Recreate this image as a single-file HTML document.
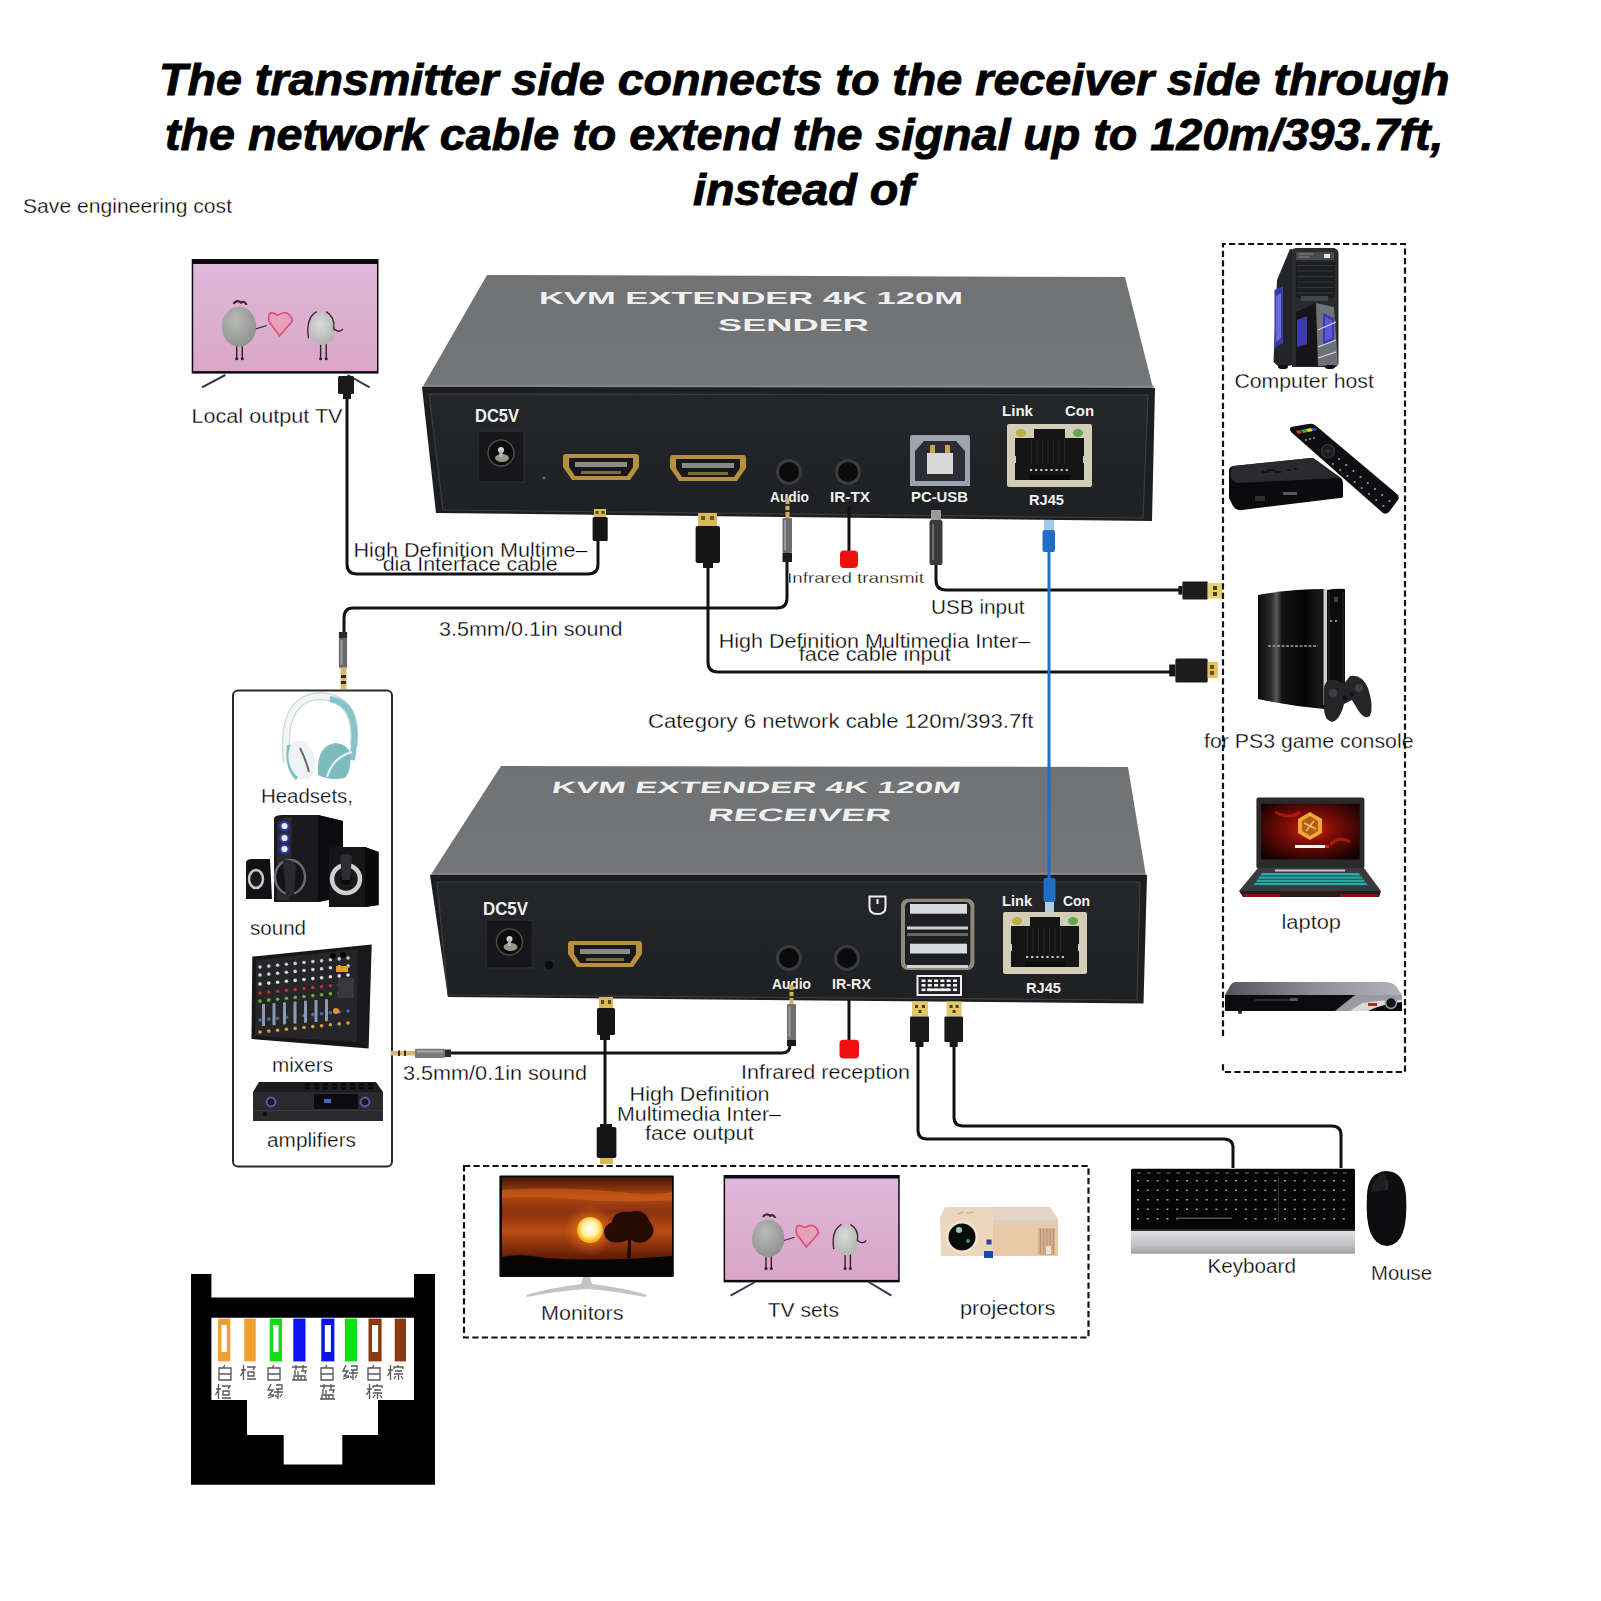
<!DOCTYPE html>
<html><head><meta charset="utf-8">
<style>
html,body{margin:0;padding:0;background:#fff;}
body{width:1601px;height:1601px;overflow:hidden;position:relative;}
svg{position:absolute;left:0;top:0;}
text{font-family:"Liberation Sans",sans-serif;}
.t{font-size:45px;font-weight:bold;font-style:italic;fill:#000;stroke:#000;stroke-width:0.9px;}
.l{font-size:19.5px;fill:#111;}
</style></head><body>
<svg width="1601" height="1601" viewBox="0 0 1601 1601">
<defs>
 <linearGradient id="topS" x1="0" y1="0" x2="0" y2="1">
  <stop offset="0" stop-color="#717274"/><stop offset="1" stop-color="#747577"/>
 </linearGradient>
 <linearGradient id="frontS" x1="0" y1="0" x2="0" y2="1">
  <stop offset="0" stop-color="#25262a"/><stop offset="1" stop-color="#1f2023"/>
 </linearGradient>
</defs>

<text class="t" x="159" y="94.5" textLength="1290.5" lengthAdjust="spacingAndGlyphs">The transmitter side connects to the receiver side through</text>
<text class="t" x="165" y="149.5" textLength="1278.5" lengthAdjust="spacingAndGlyphs">the network cable to extend the signal up to 120m/393.7ft,</text>
<text class="t" x="693" y="204.5" textLength="221" lengthAdjust="spacingAndGlyphs">instead of</text>
<text x="23" y="212.7" font-size="19.5" fill="#000" stroke="#fff" stroke-width="0.3" textLength="209" lengthAdjust="spacingAndGlyphs">Save engineering cost</text>
<g id="sender"><polygon points="487,275 1125,277 1153,388 422,388" fill="url(#topS)"/><line x1="424" y1="385.5" x2="1154" y2="386.5" stroke="#8a8b8d" stroke-width="1.5"/><polygon points="422,387 1155,388 1152,521 436,513" fill="#1d1e21"/><polygon points="429,394 1148,395 1143,518 443,510" fill="url(#frontS)" stroke="#3b3c40" stroke-width="1.2"/><text x="539" y="304" font-size="17" font-weight="bold" fill="#f0f0f0" textLength="424" lengthAdjust="spacingAndGlyphs" >KVM EXTENDER 4K 120M</text><text x="718" y="331" font-size="17" font-weight="bold" fill="#f0f0f0" textLength="151" lengthAdjust="spacingAndGlyphs" >SENDER</text><text x="475" y="422" font-size="18.5" font-weight="bold" fill="#f0f0f0" textLength="44" lengthAdjust="spacingAndGlyphs" >DC5V</text><rect x="478" y="431" width="46" height="51" fill="#17171a" stroke="#2a2b2f" stroke-width="1.5"/><circle cx="501.0" cy="453" r="13" fill="#0c0c0d" stroke="#4a4a4e" stroke-width="1.5"/><ellipse cx="502.0" cy="458" rx="7" ry="4" fill="#9a968a"/><circle cx="501.0" cy="450" r="3" fill="#d8d8d8"/><rect x="499.5" y="450" width="3" height="7" fill="#b8b8b8"/><circle cx="544" cy="478" r="1.5" fill="#666"/><path d="M566,454 H636 Q639,454 639,457 V467.0 L630,480 H572 L563,467.0 V457 Q563,454 566,454 Z" fill="#b88f3c"/><path d="M569,458 H633 V467.0 L627,476 H575 L569,467.0 Z" fill="#16181b"/><rect x="575" y="462" width="52" height="5" fill="#8a8a86"/><rect x="581" y="471" width="40" height="3" fill="#7a6a3a"/><path d="M673,455 H743 Q746,455 746,458 V468.0 L737,481 H679 L670,468.0 V458 Q670,455 673,455 Z" fill="#b88f3c"/><path d="M676,459 H740 V468.0 L734,477 H682 L676,468.0 Z" fill="#16181b"/><rect x="682" y="463" width="52" height="5" fill="#8a8a86"/><rect x="688" y="472" width="40" height="3" fill="#7a6a3a"/><circle cx="789" cy="472" r="13" fill="#3a3b3e"/><circle cx="789" cy="472" r="10" fill="#0b0b0c"/><circle cx="848" cy="472" r="13" fill="#3a3b3e"/><circle cx="848" cy="472" r="10" fill="#0b0b0c"/><text x="770" y="502" font-size="14" font-weight="bold" fill="#f0f0f0" textLength="39" lengthAdjust="spacingAndGlyphs" >Audio</text><text x="830" y="502" font-size="14" font-weight="bold" fill="#f0f0f0" textLength="40" lengthAdjust="spacingAndGlyphs" >IR-TX</text><path d="M910,438 Q910,435 913,435 H967 Q970,435 970,438 V486 H910 Z" fill="#9ea3b0"/><path d="M915,451 L924,441 H956 L965,451 V481 H915 Z" fill="#2d2e33"/><rect x="927" y="453" width="26" height="21" fill="#d8d8d8"/><rect x="930" y="445" width="5" height="8" fill="#c9a050"/><rect x="945" y="445" width="5" height="8" fill="#c9a050"/><text x="911" y="502" font-size="14" font-weight="bold" fill="#f0f0f0" textLength="57" lengthAdjust="spacingAndGlyphs" >PC-USB</text><text x="1002" y="416" font-size="15" font-weight="bold" fill="#f0f0f0" textLength="31" lengthAdjust="spacingAndGlyphs" >Link</text><text x="1065" y="416" font-size="15" font-weight="bold" fill="#f0f0f0" textLength="29" lengthAdjust="spacingAndGlyphs" >Con</text><rect x="1007" y="424" width="85" height="63" rx="2" fill="#d3ccb6"/><rect x="1015" y="438" width="69" height="42" fill="#151516"/><rect x="1034" y="429" width="31" height="10" fill="#151516"/><ellipse cx="1021" cy="433" rx="5" ry="4" fill="#b8b040"/><ellipse cx="1078" cy="433" rx="5" ry="4" fill="#62a84a"/><rect x="1012" y="456" width="4" height="7" fill="#d3ccb6"/><rect x="1083" y="456" width="4" height="7" fill="#d3ccb6"/><rect x="1029" y="475" width="41" height="5" fill="#0a0a0a"/><rect x="1030.0" y="469" width="2.2" height="2" fill="#c8c4b8"/><rect x="1035.1" y="469" width="2.2" height="2" fill="#c8c4b8"/><rect x="1040.2" y="469" width="2.2" height="2" fill="#c8c4b8"/><rect x="1045.3" y="469" width="2.2" height="2" fill="#c8c4b8"/><rect x="1050.4" y="469" width="2.2" height="2" fill="#c8c4b8"/><rect x="1055.5" y="469" width="2.2" height="2" fill="#c8c4b8"/><rect x="1060.6" y="469" width="2.2" height="2" fill="#c8c4b8"/><rect x="1065.7" y="469" width="2.2" height="2" fill="#c8c4b8"/><rect x="1031.0" y="440" width="1" height="24" fill="#262628"/><rect x="1036.5" y="440" width="1" height="24" fill="#262628"/><rect x="1042.0" y="440" width="1" height="24" fill="#262628"/><rect x="1047.5" y="440" width="1" height="24" fill="#262628"/><rect x="1053.0" y="440" width="1" height="24" fill="#262628"/><rect x="1058.5" y="440" width="1" height="24" fill="#262628"/><rect x="1064.0" y="440" width="1" height="24" fill="#262628"/><text x="1029" y="505" font-size="15" font-weight="bold" fill="#f0f0f0" textLength="35" lengthAdjust="spacingAndGlyphs" >RJ45</text></g>
<g id="receiver"><polygon points="501,766 1128,767 1146,876 430,876" fill="url(#topS)"/><line x1="432" y1="873.5" x2="1145" y2="873.5" stroke="#8a8b8d" stroke-width="1.5"/><polygon points="430,875 1147,875 1143.5,1003.5 448,997" fill="#1d1e21"/><polygon points="437,882 1140,882 1137,1000 448,995" fill="url(#frontS)" stroke="#3b3c40" stroke-width="1.2"/><text transform="translate(551,793) skewX(-10)" x="0" y="0" font-size="16.5" font-weight="bold" fill="#f0f0f0" textLength="409" lengthAdjust="spacingAndGlyphs">KVM EXTENDER 4K 120M</text><text transform="translate(707,821) skewX(-10)" x="0" y="0" font-size="18" font-weight="bold" fill="#f0f0f0" textLength="183" lengthAdjust="spacingAndGlyphs">RECEIVER</text><text x="483" y="915" font-size="18.5" font-weight="bold" fill="#f0f0f0" textLength="45" lengthAdjust="spacingAndGlyphs" >DC5V</text><rect x="486" y="920" width="47" height="48" fill="#17171a" stroke="#2a2b2f" stroke-width="1.5"/><circle cx="509.5" cy="942" r="13" fill="#0c0c0d" stroke="#4a4a4e" stroke-width="1.5"/><ellipse cx="510.5" cy="947" rx="7" ry="4" fill="#9a968a"/><circle cx="509.5" cy="939" r="3" fill="#d8d8d8"/><rect x="508.0" y="939" width="3" height="7" fill="#b8b8b8"/><circle cx="549" cy="965" r="4" fill="#0c0c0d"/><path d="M571,941 H639 Q642,941 642,944 V954.0 L633,967 H577 L568,954.0 V944 Q568,941 571,941 Z" fill="#b88f3c"/><path d="M574,945 H636 V954.0 L630,963 H580 L574,954.0 Z" fill="#16181b"/><rect x="580" y="949" width="50" height="5" fill="#8a8a86"/><rect x="586" y="958" width="38" height="3" fill="#7a6a3a"/><circle cx="789" cy="958" r="13" fill="#3a3b3e"/><circle cx="789" cy="958" r="10" fill="#0b0b0c"/><circle cx="847" cy="958" r="13" fill="#3a3b3e"/><circle cx="847" cy="958" r="10" fill="#0b0b0c"/><text x="772" y="989" font-size="14" font-weight="bold" fill="#f0f0f0" textLength="39" lengthAdjust="spacingAndGlyphs" >Audio</text><text x="832" y="989" font-size="14" font-weight="bold" fill="#f0f0f0" textLength="39" lengthAdjust="spacingAndGlyphs" >IR-RX</text></g>
<g><text x="1002" y="906" font-size="15" font-weight="bold" fill="#f0f0f0" textLength="30" lengthAdjust="spacingAndGlyphs" >Link</text><text x="1063" y="906" font-size="15" font-weight="bold" fill="#f0f0f0" textLength="27" lengthAdjust="spacingAndGlyphs" >Con</text><rect x="1003" y="912" width="84" height="62" rx="2" fill="#d3ccb6"/><rect x="1011" y="926" width="68" height="41" fill="#151516"/><rect x="1030" y="917" width="30" height="10" fill="#151516"/><ellipse cx="1017" cy="921" rx="5" ry="4" fill="#b8b040"/><ellipse cx="1073" cy="921" rx="5" ry="4" fill="#62a84a"/><rect x="1008" y="944" width="4" height="7" fill="#d3ccb6"/><rect x="1078" y="944" width="4" height="7" fill="#d3ccb6"/><rect x="1025" y="962" width="40" height="5" fill="#0a0a0a"/><rect x="1026.0" y="956" width="2.2" height="2" fill="#c8c4b8"/><rect x="1031.1" y="956" width="2.2" height="2" fill="#c8c4b8"/><rect x="1036.2" y="956" width="2.2" height="2" fill="#c8c4b8"/><rect x="1041.3" y="956" width="2.2" height="2" fill="#c8c4b8"/><rect x="1046.4" y="956" width="2.2" height="2" fill="#c8c4b8"/><rect x="1051.5" y="956" width="2.2" height="2" fill="#c8c4b8"/><rect x="1056.6" y="956" width="2.2" height="2" fill="#c8c4b8"/><rect x="1061.7" y="956" width="2.2" height="2" fill="#c8c4b8"/><rect x="1027.0" y="928" width="1" height="24" fill="#262628"/><rect x="1032.5" y="928" width="1" height="24" fill="#262628"/><rect x="1038.0" y="928" width="1" height="24" fill="#262628"/><rect x="1043.5" y="928" width="1" height="24" fill="#262628"/><rect x="1049.0" y="928" width="1" height="24" fill="#262628"/><rect x="1054.5" y="928" width="1" height="24" fill="#262628"/><rect x="1060.0" y="928" width="1" height="24" fill="#262628"/><text x="1026" y="993" font-size="15" font-weight="bold" fill="#f0f0f0" textLength="35" lengthAdjust="spacingAndGlyphs" >RJ45</text><rect x="901" y="898.7" width="73.4" height="71.3" rx="7" fill="#8f8a78"/><rect x="905" y="902" width="65.4" height="64.7" rx="5" fill="#1e1f22"/><rect x="910" y="904" width="57" height="9.7" fill="#d8dcdc"/><rect x="907" y="926.5" width="61" height="3" fill="#d0d0d0"/><rect x="910" y="943.7" width="57" height="9.8" fill="#d8dcdc"/><rect x="907" y="965" width="61" height="3" fill="#d0d0d0"/><rect x="907" y="933" width="61" height="3" fill="#6a6658"/><path d="M869.5,896.5 H885.5 V907 Q885.5,914 877.5,914 Q869.5,914 869.5,907 Z" fill="none" stroke="#f0f0f0" stroke-width="2"/><rect x="876.5" y="899" width="2" height="5" fill="#f0f0f0"/><rect x="917.5" y="976" width="43.5" height="19" fill="none" stroke="#f0f0f0" stroke-width="2"/><rect x="921.5" y="979.5" width="4" height="2.6" fill="#f0f0f0"/><rect x="927.8" y="979.5" width="4" height="2.6" fill="#f0f0f0"/><rect x="934.1" y="979.5" width="4" height="2.6" fill="#f0f0f0"/><rect x="940.4" y="979.5" width="4" height="2.6" fill="#f0f0f0"/><rect x="946.7" y="979.5" width="4" height="2.6" fill="#f0f0f0"/><rect x="953.0" y="979.5" width="4" height="2.6" fill="#f0f0f0"/><rect x="921.5" y="984.0" width="4" height="2.6" fill="#f0f0f0"/><rect x="927.8" y="984.0" width="4" height="2.6" fill="#f0f0f0"/><rect x="934.1" y="984.0" width="4" height="2.6" fill="#f0f0f0"/><rect x="940.4" y="984.0" width="4" height="2.6" fill="#f0f0f0"/><rect x="946.7" y="984.0" width="4" height="2.6" fill="#f0f0f0"/><rect x="953.0" y="984.0" width="4" height="2.6" fill="#f0f0f0"/><rect x="921.5" y="988.5" width="4" height="2.6" fill="#f0f0f0"/><rect x="927.8" y="988.5" width="4" height="2.6" fill="#f0f0f0"/><rect x="934.1" y="988.5" width="4" height="2.6" fill="#f0f0f0"/><rect x="940.4" y="988.5" width="4" height="2.6" fill="#f0f0f0"/><rect x="946.7" y="988.5" width="4" height="2.6" fill="#f0f0f0"/><rect x="953.0" y="988.5" width="4" height="2.6" fill="#f0f0f0"/><rect x="927" y="988.5" width="22" height="2.6" fill="#f0f0f0"/></g>
<rect x="464" y="1166" width="624.5" height="171.5" fill="none" stroke="#111" stroke-width="2.2" stroke-dasharray="6.2,3.3"/>
<rect x="233" y="690.5" width="159" height="476" rx="5" fill="none" stroke="#2a2a2a" stroke-width="2"/>
<rect x="191.7" y="259" width="186.8" height="114.60000000000002" fill="#0a0a12"/><defs><linearGradient id="pk191" x1="0" y1="0" x2="0" y2="1"><stop offset="0" stop-color="#e0b8da"/><stop offset="1" stop-color="#d9a6c6"/></linearGradient><radialGradient id="st191" cx="0.4" cy="0.35" r="0.7"><stop offset="0" stop-color="#b8bab8"/><stop offset="1" stop-color="#8e908e"/></radialGradient><radialGradient id="st2191" cx="0.4" cy="0.35" r="0.7"><stop offset="0" stop-color="#d8dcd8"/><stop offset="1" stop-color="#aeb2ae"/></radialGradient></defs><rect x="193.2" y="264" width="183.8" height="107.10000000000002" fill="url(#pk191)"/><path d="M236.7,343.8 v14.9" stroke="#2a2028" stroke-width="1.4"/><circle cx="236.7" cy="358.7" r="1.5" fill="#2a2028"/><path d="M242.3,343.8 v14.9" stroke="#2a2028" stroke-width="1.4"/><circle cx="242.3" cy="358.7" r="1.5" fill="#2a2028"/><path d="M320.6,340.4 v17.2" stroke="#2a2028" stroke-width="1.4"/><circle cx="320.6" cy="358.7" r="1.5" fill="#2a2028"/><path d="M326.2,340.4 v17.2" stroke="#2a2028" stroke-width="1.4"/><circle cx="326.2" cy="358.7" r="1.5" fill="#2a2028"/><ellipse cx="239.0" cy="326.6" rx="17.2" ry="20.1" fill="url(#st191)"/><ellipse cx="322.5" cy="328.9" rx="12.7" ry="16.0" fill="url(#st2191)"/><path d="M233.4,303.7 q3.7,-4.6 7.5,-1.1 q3.7,-2.3 5.6,2.3" fill="none" stroke="#3a2a34" stroke-width="2.2"/><path d="M255.8,328.9 l11.2,-3.4" stroke="#3a2a34" stroke-width="1.2"/><path d="M279.5,335.8 L269.2,322.0 Q266.4,308.3 277.6,315.2 Q288.8,308.3 292.6,320.9 Z" fill="#e8a0b8" stroke="#d85070" stroke-width="1.6"/><path d="M308.4,338.1 Q305.6,317.4 316.9,311.7 M326.2,311.7 Q335.5,317.4 333.7,328.9 Q339.3,333.5 343.0,328.9" fill="none" stroke="#3a2a34" stroke-width="1.4"/><line x1="202" y1="387.4" x2="225.3" y2="375" stroke="#34344a" stroke-width="2"/><line x1="347.6" y1="375" x2="369.6" y2="387.4" stroke="#34344a" stroke-width="2"/>
<rect x="723.6" y="1175" width="176.10000000000002" height="107.40000000000009" fill="#0a0a12"/><defs><linearGradient id="pk723" x1="0" y1="0" x2="0" y2="1"><stop offset="0" stop-color="#e0b8da"/><stop offset="1" stop-color="#d9a6c6"/></linearGradient><radialGradient id="st723" cx="0.4" cy="0.35" r="0.7"><stop offset="0" stop-color="#b8bab8"/><stop offset="1" stop-color="#8e908e"/></radialGradient><radialGradient id="st2723" cx="0.4" cy="0.35" r="0.7"><stop offset="0" stop-color="#d8dcd8"/><stop offset="1" stop-color="#aeb2ae"/></radialGradient></defs><rect x="725.1" y="1178.5" width="173.10000000000002" height="101.40000000000009" fill="url(#pk723)"/><path d="M766.0,1254.5 v14.0" stroke="#2a2028" stroke-width="1.4"/><circle cx="766.0" cy="1268.4" r="1.5" fill="#2a2028"/><path d="M771.3,1254.5 v14.0" stroke="#2a2028" stroke-width="1.4"/><circle cx="771.3" cy="1268.4" r="1.5" fill="#2a2028"/><path d="M845.1,1251.3 v16.1" stroke="#2a2028" stroke-width="1.4"/><circle cx="845.1" cy="1268.4" r="1.5" fill="#2a2028"/><path d="M850.4,1251.3 v16.1" stroke="#2a2028" stroke-width="1.4"/><circle cx="850.4" cy="1268.4" r="1.5" fill="#2a2028"/><ellipse cx="768.2" cy="1238.4" rx="16.2" ry="18.8" fill="url(#st723)"/><ellipse cx="846.9" cy="1240.5" rx="12.0" ry="15.0" fill="url(#st2723)"/><path d="M762.9,1216.9 q3.5,-4.3 7.0,-1.1 q3.5,-2.1 5.3,2.1" fill="none" stroke="#3a2a34" stroke-width="2.2"/><path d="M784.0,1240.5 l10.6,-3.2" stroke="#3a2a34" stroke-width="1.2"/><path d="M806.4,1247.0 L796.7,1234.1 Q794.0,1221.2 804.6,1227.6 Q815.2,1221.2 818.7,1233.0 Z" fill="#e8a0b8" stroke="#d85070" stroke-width="1.6"/><path d="M833.7,1249.1 Q831.0,1229.8 841.6,1224.4 M850.4,1224.4 Q859.2,1229.8 857.4,1240.5 Q862.7,1244.8 866.2,1240.5" fill="none" stroke="#3a2a34" stroke-width="1.4"/><line x1="730.6" y1="1295.6" x2="755" y2="1282" stroke="#34344a" stroke-width="2"/><line x1="868.7" y1="1282" x2="891.4" y2="1295.6" stroke="#34344a" stroke-width="2"/>
<g><path d="M191,1274 H211.4 V1297.6 H414 V1274 H435 V1484.7 H191 Z" fill="#000"/><path d="M211.4,1317.7 H414 V1400 H378 V1435 H342.3 V1464.6 H283.7 V1435 H247 V1400 H211.4 Z" fill="#fff"/><rect x="218" y="1318.6" width="12.300000000000011" height="42.8" fill="#f0a030"/><rect x="221.5" y="1325" width="5.300000000000011" height="27" fill="#fff"/><rect x="244.3" y="1318.6" width="11.399999999999977" height="42.8" fill="#f0a030"/><rect x="269.7" y="1318.6" width="12.300000000000011" height="42.8" fill="#10e010"/><rect x="273.2" y="1325" width="5.300000000000011" height="27" fill="#fff"/><rect x="293.3" y="1318.6" width="12.199999999999989" height="42.8" fill="#0a14f0"/><rect x="321.3" y="1318.6" width="13.099999999999966" height="42.8" fill="#0a14f0"/><rect x="324.8" y="1325" width="6.099999999999966" height="27" fill="#fff"/><rect x="344.9" y="1318.6" width="12.200000000000045" height="42.8" fill="#10e010"/><rect x="368.5" y="1318.6" width="13.100000000000023" height="42.8" fill="#8a3a10"/><rect x="372.0" y="1325" width="6.100000000000023" height="27" fill="#fff"/><rect x="394.7" y="1318.6" width="11.300000000000011" height="42.8" fill="#8a3a10"/></g>
<g><polygon points="1290,249 1277,280 1273.5,362 1280,368 1292,365 1292,249" fill="#232427"/><polygon points="1274.5,290 1283,286 1283,343 1274.5,348" fill="#3838b0"/><polygon points="1276,296 1281,293 1281,338 1276,342" fill="#6a6ad8"/><path d="M1292,250 Q1293,248 1297,248 H1334 Q1338,249 1338.5,253 V364 L1336,367 H1292 Z" fill="#2a2b2e"/><rect x="1296" y="252" width="38" height="8" fill="#4a4b4f"/><path d="M1299,254 h14 M1299,257 h10" stroke="#8a8a8e" stroke-width="1"/><rect x="1324" y="254" width="6" height="4" fill="#e8e8e8"/><rect x="1296" y="262" width="39" height="36" fill="#1c1d20"/><rect x="1297" y="265.0" width="37" height="1.2" fill="#333438"/><rect x="1297" y="270.5" width="37" height="1.2" fill="#333438"/><rect x="1297" y="276.0" width="37" height="1.2" fill="#333438"/><rect x="1297" y="281.5" width="37" height="1.2" fill="#333438"/><rect x="1297" y="287.0" width="37" height="1.2" fill="#333438"/><rect x="1297" y="292.5" width="37" height="1.2" fill="#333438"/><rect x="1301" y="296" width="27" height="5" fill="#45464a"/><polygon points="1296,312 1316,303 1318,366 1296,366" fill="#151518"/><polygon points="1316,303 1334,307 1338,365 1318,366" fill="#707176"/><polygon points="1297,320 1307,316 1307,344 1297,347" fill="#3a3ab0"/><polygon points="1323,313 1334,318 1334,341 1323,345" fill="#3a3ab8"/><polygon points="1325,317 1332,320 1332,338 1325,341" fill="#5a5ad0"/><path d="M1318,330 L1336,322 M1318,347 L1336,340 M1318,358 L1336,352" stroke="#d8d8dc" stroke-width="1.2"/><ellipse cx="1283" cy="367" rx="5" ry="2" fill="#111"/><ellipse cx="1330" cy="367" rx="5" ry="2" fill="#111"/><path d="M1233,466 L1311,458 Q1314,458 1316,460 L1341,478 Q1343,480 1343,483 V496 Q1343,498 1340,498 L1242,510 Q1236,511 1233,506 L1229,498 V470 Q1229,467 1233,466 Z" fill="#0b0b0d"/><path d="M1233,466 L1311,458 Q1314,458 1316,460 L1340,478 L1238,483 Q1231,482 1230,474 Z" fill="#2a2a2d"/><path d="M1262,472 h6 l1,-2 h5 l1,2 h6 M1287,470 h4 M1294,469 h3" stroke="#151517" stroke-width="2" fill="none"/><rect x="1255" y="496" width="10" height="5" fill="#2e2e32"/><rect x="1283" y="492" width="14" height="3" fill="#58585c"/><path d="M1291,427 Q1289,429 1291,432 L1383,513 Q1386,515 1389,512 L1398,500 Q1400,497 1397,494 L1315,425 Q1312,423 1308,424 Z" fill="#0e0e10"/><path d="M1296,431 L1300,430 L1302,433 L1298,434 Z" fill="#e03030"/><path d="M1301,430 L1306,429 L1308,432 L1303,433 Z" fill="#30b040"/><path d="M1306,429 L1311,428 L1313,431 L1308,432 Z" fill="#e0d030"/><path d="M1311,428 L1315,428 L1317,430 L1313,431 Z" fill="#3050d0"/><circle cx="1328" cy="451" r="6.5" fill="#1c1c20" stroke="#3a3a3e" stroke-width="1.2"/><circle cx="1328" cy="451" r="2" fill="#333"/><circle cx="1333.0" cy="464.0" r="1.1" fill="#9a9a9a"/><circle cx="1339.0" cy="459.0" r="1.1" fill="#9a9a9a"/><circle cx="1340.2" cy="470.0" r="1.1" fill="#9a9a9a"/><circle cx="1346.2" cy="465.0" r="1.1" fill="#9a9a9a"/><circle cx="1347.4" cy="476.0" r="1.1" fill="#9a9a9a"/><circle cx="1353.4" cy="471.0" r="1.1" fill="#9a9a9a"/><circle cx="1354.6" cy="482.0" r="1.1" fill="#9a9a9a"/><circle cx="1360.6" cy="477.0" r="1.1" fill="#9a9a9a"/><circle cx="1361.8" cy="488.0" r="1.1" fill="#9a9a9a"/><circle cx="1367.8" cy="483.0" r="1.1" fill="#9a9a9a"/><circle cx="1369.0" cy="494.0" r="1.1" fill="#9a9a9a"/><circle cx="1375.0" cy="489.0" r="1.1" fill="#9a9a9a"/><circle cx="1376.2" cy="500.0" r="1.1" fill="#9a9a9a"/><circle cx="1382.2" cy="495.0" r="1.1" fill="#9a9a9a"/><circle cx="1383.4" cy="506.0" r="1.1" fill="#9a9a9a"/><circle cx="1389.4" cy="501.0" r="1.1" fill="#9a9a9a"/><circle cx="1306.0" cy="440.0" r="1" fill="#9a9a9a"/><circle cx="1310.0" cy="439.0" r="1" fill="#9a9a9a"/><circle cx="1314.0" cy="438.0" r="1" fill="#9a9a9a"/><defs><linearGradient id="ps3g" x1="0" y1="0" x2="1" y2="0"><stop offset="0" stop-color="#0a0a0b"/><stop offset="0.2" stop-color="#2c2c2e"/><stop offset="0.28" stop-color="#5a5a5c"/><stop offset="0.36" stop-color="#141416"/><stop offset="0.7" stop-color="#050506"/><stop offset="0.95" stop-color="#1a1a1c"/><stop offset="1" stop-color="#0a0a0a"/></linearGradient></defs><path d="M1258,595 Q1290,589 1324,589 V709 Q1290,706 1258,699 Z" fill="url(#ps3g)"/><path d="M1268,646 h50" stroke="#9a9a9c" stroke-width="1.3" stroke-dasharray="3,1.5"/><rect x="1323.5" y="589" width="3.5" height="116" fill="#cfcfd1"/><path d="M1327,590 Q1336,588 1345,589 V702 L1327,705 Z" fill="#0c0c0d"/><path d="M1329,592 V700 M1343,592 V700" stroke="#2a2a2c" stroke-width="1"/><rect x="1334" y="597" width="4" height="5" fill="#444"/><rect x="1335" y="620" width="2" height="2" fill="#888"/><rect x="1330" y="620" width="2" height="2" fill="#888"/><path d="M1324,690 Q1324,678 1336,680 L1344,684 L1350,676 Q1362,674 1368,688 Q1374,706 1370,716 Q1364,720 1358,710 L1352,700 L1344,704 Q1340,720 1332,722 Q1324,720 1324,708 Z" fill="#252527"/><circle cx="1333" cy="693" r="4" fill="#3e3e42"/><circle cx="1359" cy="688" r="4" fill="#3e3e42"/><circle cx="1345" cy="698" r="2.5" fill="#151517"/><circle cx="1352" cy="694" r="2.5" fill="#151517"/><rect x="1256.4" y="797.5" width="108" height="71" rx="2" fill="#2a2a2c"/><defs><radialGradient id="lapR" cx="0.5" cy="0.45" r="0.65"><stop offset="0" stop-color="#d82010"/><stop offset="0.4" stop-color="#7a0c06"/><stop offset="1" stop-color="#140202"/></radialGradient></defs><rect x="1261" y="803.8" width="98.7" height="55.7" fill="url(#lapR)"/><path d="M1275,812 Q1290,820 1300,812 M1330,845 Q1340,835 1350,842" stroke="#c82010" stroke-width="3" fill="none" opacity="0.7"/><polygon points="1310,812 1322,819 1322,833 1310,840 1298,833 1298,819" fill="#f0a838"/><polygon points="1310,816 1318,821 1318,831 1310,836 1302,831 1302,821" fill="#b85a18"/><path d="M1304,823 L1316,829 M1306,831 L1314,821" stroke="#f8c060" stroke-width="1.5"/><rect x="1295" y="845" width="30" height="3" fill="#f0f0f0"/><rect x="1325" y="845" width="4" height="3" fill="#e02020"/><polygon points="1258,868 1364,868 1381,891 1239,891" fill="#3a3a3c"/><rect x="1275" y="869.5" width="70" height="2" fill="#c8c8c8"/><polygon points="1262,873 1359,873 1368,886 1253,886" fill="#30a8a8"/><line x1="1260.0" y1="876.0" x2="1361.0" y2="876.0" stroke="#0e3e40" stroke-width="0.9"/><line x1="1257.8" y1="879.2" x2="1363.2" y2="879.2" stroke="#0e3e40" stroke-width="0.9"/><line x1="1255.6" y1="882.4" x2="1365.4" y2="882.4" stroke="#0e3e40" stroke-width="0.9"/><line x1="1253.4" y1="885.6" x2="1367.6" y2="885.6" stroke="#0e3e40" stroke-width="0.9"/><polygon points="1239,891 1381,891 1379,897 1243,897" fill="#2a1a1a"/><polygon points="1243,894 1280,894 1280,897 1245,897" fill="#8a1414"/><polygon points="1340,894 1378,894 1377,897 1340,897" fill="#8a1414"/><defs><linearGradient id="dvdt" x1="0" y1="0" x2="1" y2="0"><stop offset="0" stop-color="#55535c"/><stop offset="0.5" stop-color="#8e8c96"/><stop offset="1" stop-color="#b4b2bc"/></linearGradient></defs><path d="M1236,982 H1385 Q1392,982 1396,986 L1402,995 H1225 L1230,986 Q1232,982 1236,982 Z" fill="url(#dvdt)"/><rect x="1225" y="995" width="177" height="16" fill="#0c0c0e"/><path d="M1335,1011 L1355,995 H1402 V1001 Q1380,1003 1360,1011 Z" fill="#9a9aa2"/><path d="M1350,1011 L1362,1003 Q1380,1000 1402,1000 V1002 Q1382,1004 1368,1011 Z" fill="#d8d8de"/><rect x="1255" y="999" width="40" height="2" fill="#2e2e30"/><rect x="1290" y="998" width="8" height="3" fill="#555"/><rect x="1368" y="1003" width="9" height="3" fill="#c02020"/><circle cx="1391" cy="1003" r="5.5" fill="#151515" stroke="#9a9aa0" stroke-width="1.5"/><circle cx="1240" cy="1012" r="2" fill="#222"/></g>
<g><path d="M287,762 Q280,698 320,696 Q358,698 354,745" fill="none" stroke="#c8d8dc" stroke-width="8"/><path d="M287,762 Q280,698 320,696 Q358,698 354,745" fill="none" stroke="#f2f6f8" stroke-width="5.5"/><path d="M330,699 Q358,703 354,745 L352,760" fill="none" stroke="#86c4c8" stroke-width="6"/><path d="M287,745 Q284,770 296,780 L302,772 Q292,762 293,745 Z" fill="#80c0c4"/><ellipse cx="302" cy="760" rx="13" ry="20" fill="#f0f2f6" transform="rotate(-15 302 760)"/><path d="M300,748 Q306,760 309,772" stroke="#6a6a70" stroke-width="2" fill="none"/><path d="M318,775 Q316,745 336,743 Q346,744 350,752 Q352,770 345,778 Q330,781 318,775 Z" fill="#7cbcc0"/><path d="M327,777 Q333,757 352,752" stroke="#eaf6f6" stroke-width="2" fill="none"/><path d="M274,818 Q276,815 282,815 H318 L343,821 V897 L318,902 H274 Z" fill="#1a1a1d"/><path d="M318,815 L343,821 V897 L318,902 Z" fill="#0c0c0e"/><path d="M277,822 Q282,817 292,817 L290,900 H277 Z" fill="#2a2a30"/><circle cx="284.5" cy="826" r="4.2" fill="#e8eaf4" stroke="#2838a8" stroke-width="2.2"/><circle cx="284.5" cy="838" r="4.2" fill="#e8eaf4" stroke="#2838a8" stroke-width="2.2"/><circle cx="284.5" cy="849" r="4.2" fill="#e8eaf4" stroke="#2838a8" stroke-width="2.2"/><ellipse cx="290" cy="877" rx="15" ry="17" fill="#141416" stroke="#6a6a70" stroke-width="2.5"/><path d="M283,860 Q292,858 296,866 L294,895 L286,895 Z" fill="#2a2a2e"/><path d="M246,862 Q247,859 252,859 H270 L272,899 H246 Z" fill="#121214"/><ellipse cx="256" cy="879" rx="7" ry="9" fill="#1a1a1a" stroke="#c8c8cc" stroke-width="2.5"/><path d="M329,849 Q331,847 336,847 H365 L378.6,852 V905 L365,907 H329 Z" fill="#161618"/><path d="M365,847 L378.6,852 V905 L365,907 Z" fill="#0a0a0b"/><circle cx="346" cy="879" r="14" fill="#1a1a1a" stroke="#cfcfd3" stroke-width="4.5"/><circle cx="346" cy="879" r="6" fill="#0a0a0a"/><path d="M340,856 Q346,852 352,856 L350,880 H342 Z" fill="#2e2e32"/><polygon points="252.3,956.6 371.7,944.4 368.6,1048.5 251.5,1039" fill="#161618"/><polygon points="256,960 358,949 357,1042 255,1036" fill="#262629"/><polygon points="358,949 371,945 368,1048 357,1042" fill="#1a1a1c"/><circle cx="260.0" cy="967.0" r="1.8" fill="#c8c8cc"/><circle cx="268.8" cy="966.1" r="1.8" fill="#c8c8cc"/><circle cx="277.6" cy="965.2" r="1.8" fill="#c8c8cc"/><circle cx="286.4" cy="964.3" r="1.8" fill="#c8c8cc"/><circle cx="295.2" cy="963.4" r="1.8" fill="#c8c8cc"/><circle cx="304.0" cy="962.5" r="1.8" fill="#c8c8cc"/><circle cx="312.8" cy="961.6" r="1.8" fill="#c8c8cc"/><circle cx="321.6" cy="960.7" r="1.8" fill="#c8c8cc"/><circle cx="330.4" cy="959.8" r="1.8" fill="#c8c8cc"/><circle cx="339.2" cy="958.9" r="1.8" fill="#c8c8cc"/><circle cx="348.0" cy="958.0" r="1.8" fill="#c8c8cc"/><circle cx="260.0" cy="975.0" r="1.8" fill="#d0d0d4"/><circle cx="268.8" cy="974.1" r="1.8" fill="#d0d0d4"/><circle cx="277.6" cy="973.2" r="1.8" fill="#d0d0d4"/><circle cx="286.4" cy="972.3" r="1.8" fill="#d0d0d4"/><circle cx="295.2" cy="971.4" r="1.8" fill="#d0d0d4"/><circle cx="304.0" cy="970.5" r="1.8" fill="#d0d0d4"/><circle cx="312.8" cy="969.6" r="1.8" fill="#d0d0d4"/><circle cx="321.6" cy="968.7" r="1.8" fill="#d0d0d4"/><circle cx="330.4" cy="967.8" r="1.8" fill="#d0d0d4"/><circle cx="339.2" cy="966.9" r="1.8" fill="#d0d0d4"/><circle cx="348.0" cy="966.0" r="1.8" fill="#d0d0d4"/><circle cx="260.0" cy="984.0" r="1.8" fill="#e0e0e0"/><circle cx="268.8" cy="983.1" r="1.8" fill="#e0e0e0"/><circle cx="277.6" cy="982.2" r="1.8" fill="#e0e0e0"/><circle cx="286.4" cy="981.3" r="1.8" fill="#e0e0e0"/><circle cx="295.2" cy="980.4" r="1.8" fill="#e0e0e0"/><circle cx="304.0" cy="979.5" r="1.8" fill="#e0e0e0"/><circle cx="312.8" cy="978.6" r="1.8" fill="#e0e0e0"/><circle cx="321.6" cy="977.7" r="1.8" fill="#e0e0e0"/><circle cx="330.4" cy="976.8" r="1.8" fill="#e0e0e0"/><circle cx="339.2" cy="975.9" r="1.8" fill="#e0e0e0"/><circle cx="348.0" cy="975.0" r="1.8" fill="#e0e0e0"/><circle cx="260.0" cy="993.0" r="1.8" fill="#c03030"/><circle cx="268.8" cy="992.1" r="1.8" fill="#c03030"/><circle cx="277.6" cy="991.2" r="1.8" fill="#c03030"/><circle cx="286.4" cy="990.3" r="1.8" fill="#c03030"/><circle cx="295.2" cy="989.4" r="1.8" fill="#c03030"/><circle cx="304.0" cy="988.5" r="1.8" fill="#c03030"/><circle cx="312.8" cy="987.6" r="1.8" fill="#c03030"/><circle cx="321.6" cy="986.7" r="1.8" fill="#c03030"/><circle cx="330.4" cy="985.8" r="1.8" fill="#c03030"/><circle cx="339.2" cy="984.9" r="1.8" fill="#c03030"/><circle cx="348.0" cy="984.0" r="1.8" fill="#c03030"/><circle cx="260.0" cy="1001.0" r="1.8" fill="#6ab040"/><circle cx="268.8" cy="1000.1" r="1.8" fill="#6ab040"/><circle cx="277.6" cy="999.2" r="1.8" fill="#6ab040"/><circle cx="286.4" cy="998.3" r="1.8" fill="#6ab040"/><circle cx="295.2" cy="997.4" r="1.8" fill="#6ab040"/><circle cx="304.0" cy="996.5" r="1.8" fill="#6ab040"/><circle cx="312.8" cy="995.6" r="1.8" fill="#6ab040"/><circle cx="321.6" cy="994.7" r="1.8" fill="#6ab040"/><circle cx="330.4" cy="993.8" r="1.8" fill="#6ab040"/><circle cx="339.2" cy="992.9" r="1.8" fill="#6ab040"/><circle cx="348.0" cy="992.0" r="1.8" fill="#6ab040"/><circle cx="260.0" cy="1020.0" r="1.8" fill="#4a6ab0"/><circle cx="268.8" cy="1019.1" r="1.8" fill="#4a6ab0"/><circle cx="277.6" cy="1018.2" r="1.8" fill="#4a6ab0"/><circle cx="286.4" cy="1017.3" r="1.8" fill="#4a6ab0"/><circle cx="295.2" cy="1016.4" r="1.8" fill="#4a6ab0"/><circle cx="304.0" cy="1015.5" r="1.8" fill="#4a6ab0"/><circle cx="312.8" cy="1014.6" r="1.8" fill="#4a6ab0"/><circle cx="321.6" cy="1013.7" r="1.8" fill="#4a6ab0"/><circle cx="330.4" cy="1012.8" r="1.8" fill="#4a6ab0"/><circle cx="339.2" cy="1011.9" r="1.8" fill="#4a6ab0"/><circle cx="348.0" cy="1011.0" r="1.8" fill="#4a6ab0"/><circle cx="260.0" cy="1032.0" r="1.8" fill="#d0a040"/><circle cx="268.8" cy="1031.1" r="1.8" fill="#d0a040"/><circle cx="277.6" cy="1030.2" r="1.8" fill="#d0a040"/><circle cx="286.4" cy="1029.3" r="1.8" fill="#d0a040"/><circle cx="295.2" cy="1028.4" r="1.8" fill="#d0a040"/><circle cx="304.0" cy="1027.5" r="1.8" fill="#d0a040"/><circle cx="312.8" cy="1026.6" r="1.8" fill="#d0a040"/><circle cx="321.6" cy="1025.7" r="1.8" fill="#d0a040"/><circle cx="330.4" cy="1024.8" r="1.8" fill="#d0a040"/><circle cx="339.2" cy="1023.9" r="1.8" fill="#d0a040"/><circle cx="348.0" cy="1023.0" r="1.8" fill="#d0a040"/><rect x="262.0" y="1004.0" width="3" height="22" fill="#8a9ab0"/><rect x="272.5" y="1003.2" width="3" height="22" fill="#8a9ab0"/><rect x="283.0" y="1002.4" width="3" height="22" fill="#8a9ab0"/><rect x="293.5" y="1001.6" width="3" height="22" fill="#8a9ab0"/><rect x="304.0" y="1000.8" width="3" height="22" fill="#8a9ab0"/><rect x="314.5" y="1000.0" width="3" height="22" fill="#8a9ab0"/><rect x="325.0" y="999.2" width="3" height="22" fill="#8a9ab0"/><rect x="336" y="966" width="12" height="6" fill="#e0a020"/><circle cx="333" cy="956" r="3" fill="#050505"/><circle cx="343" cy="955" r="3" fill="#050505"/><circle cx="336" cy="1011" r="3" fill="#f09030"/><rect x="338" y="978" width="16" height="20" fill="#38383c"/><polygon points="259,1082 376,1082 383,1092 253,1092" fill="#1c1c1f"/><rect x="305" y="1083.5" width="5" height="2.2" fill="#070708"/><rect x="305" y="1087.0" width="5" height="2.2" fill="#070708"/><rect x="314" y="1083.5" width="5" height="2.2" fill="#070708"/><rect x="314" y="1087.0" width="5" height="2.2" fill="#070708"/><rect x="323" y="1083.5" width="5" height="2.2" fill="#070708"/><rect x="323" y="1087.0" width="5" height="2.2" fill="#070708"/><rect x="332" y="1083.5" width="5" height="2.2" fill="#070708"/><rect x="332" y="1087.0" width="5" height="2.2" fill="#070708"/><rect x="341" y="1083.5" width="5" height="2.2" fill="#070708"/><rect x="341" y="1087.0" width="5" height="2.2" fill="#070708"/><rect x="350" y="1083.5" width="5" height="2.2" fill="#070708"/><rect x="350" y="1087.0" width="5" height="2.2" fill="#070708"/><rect x="359" y="1083.5" width="5" height="2.2" fill="#070708"/><rect x="359" y="1087.0" width="5" height="2.2" fill="#070708"/><rect x="368" y="1083.5" width="5" height="2.2" fill="#070708"/><rect x="368" y="1087.0" width="5" height="2.2" fill="#070708"/><rect x="253" y="1092" width="130" height="29" fill="#2a2a2d"/><circle cx="271" cy="1102" r="6" fill="#4040a0" opacity="0.6"/><circle cx="271" cy="1102" r="4.2" fill="#1a1a1c" stroke="#8888d0" stroke-width="1"/><circle cx="365" cy="1102" r="6" fill="#4040a0" opacity="0.6"/><circle cx="365" cy="1102" r="4.2" fill="#1a1a1c" stroke="#8888d0" stroke-width="1"/><rect x="314" y="1094" width="44" height="15" fill="#0c0c0e"/><rect x="324" y="1099" width="7" height="4" fill="#3a6ac0"/><rect x="253" y="1110" width="130" height="1" fill="#3a3a3e"/><circle cx="265" cy="1114" r="2" fill="#080808"/></g>
<g><rect x="499.4" y="1175.6" width="174.4" height="101.3" rx="1" fill="#0a0a0a"/><defs><linearGradient id="sky" x1="0" y1="0" x2="0" y2="1"><stop offset="0" stop-color="#4a1808"/><stop offset="0.2" stop-color="#b04812"/><stop offset="0.35" stop-color="#8a3010"/><stop offset="0.55" stop-color="#b84c14"/><stop offset="0.8" stop-color="#6a2008"/><stop offset="1" stop-color="#3a1004"/></linearGradient><radialGradient id="sun" cx="0.5" cy="0.5" r="0.5"><stop offset="0" stop-color="#ff9a20"/><stop offset="1" stop-color="#e06010" stop-opacity="0"/></radialGradient><radialGradient id="sunc" cx="0.5" cy="0.45" r="0.5"><stop offset="0" stop-color="#ffffff"/><stop offset="0.6" stop-color="#fff2a0"/><stop offset="1" stop-color="#ffb010"/></radialGradient></defs><rect x="502" y="1177.5" width="170" height="97.5" fill="url(#sky)"/><path d="M502,1190 Q560,1186 620,1192 Q650,1196 672,1192 V1200 Q620,1204 560,1198 Q530,1196 502,1198 Z" fill="#d06018" opacity="0.6"/><circle cx="590" cy="1230" r="26" fill="url(#sun)"/><circle cx="590" cy="1230" r="13" fill="url(#sunc)"/><path d="M502,1257 Q520,1253 545,1258 Q600,1262 672,1256 V1275 H502 Z" fill="#080402"/><path d="M627,1258 L628,1240 Q612,1246 606,1238 Q600,1228 612,1222 Q614,1210 630,1212 Q645,1208 650,1222 Q658,1232 648,1240 Q640,1246 631,1240 L631,1258 Z" fill="#1a0804" opacity="0.92"/><path d="M583,1277 H590 L592,1284 Q625,1288 647,1295 L645,1297 Q615,1291 588,1289 Q555,1291 527,1297 L526,1295 Q550,1288 581,1284 Z" fill="#c4c4c8"/><path d="M945,1207 H1050 L1058,1219 V1256 H941 L940,1217 Z" fill="#ecd6be"/><path d="M993,1207 H1050 L1058,1219 V1222 H993 Z" fill="#e6d4c4"/><rect x="993" y="1220" width="65" height="3" fill="#d4d0cc"/><rect x="993" y="1223" width="65" height="33" fill="#e8caa8"/><rect x="1038" y="1228" width="17" height="27" fill="#d4b090"/><rect x="1040.0" y="1229" width="1" height="25" fill="#b89070"/><rect x="1043.2" y="1229" width="1" height="25" fill="#b89070"/><rect x="1046.4" y="1229" width="1" height="25" fill="#b89070"/><rect x="1049.6" y="1229" width="1" height="25" fill="#b89070"/><rect x="1052.8" y="1229" width="1" height="25" fill="#b89070"/><rect x="1046" y="1246" width="5" height="8" fill="#f0e0d0"/><circle cx="962" cy="1237" r="16" fill="#f2e4d2"/><circle cx="962" cy="1237" r="13.5" fill="#0a0a0a"/><circle cx="959" cy="1230" r="3" fill="#90d0b8"/><circle cx="968" cy="1241" r="2" fill="#40907a"/><rect x="986.5" y="1239.5" width="5" height="5" fill="#3040a0"/><rect x="984" y="1251" width="9" height="7" fill="#1848c0"/><path d="M958,1214 l6,-2 M966,1213 l8,-1" stroke="#c8b8a8" stroke-width="1.5"/><rect x="1131" y="1168.8" width="224" height="61.5" rx="1.5" fill="#050506"/><defs><linearGradient id="rest" x1="0" y1="0" x2="0" y2="1"><stop offset="0" stop-color="#e4e4e6"/><stop offset="0.6" stop-color="#c4c4c8"/><stop offset="1" stop-color="#a0a0a4"/></linearGradient></defs><rect x="1131" y="1230" width="224" height="23.8" rx="1" fill="url(#rest)"/><rect x="1131" y="1229" width="224" height="2" fill="#2a2a2c"/><rect x="1137.0" y="1180.0" width="2" height="1.5" fill="#9a9a9a"/><rect x="1146.8" y="1180.0" width="2" height="1.5" fill="#9a9a9a"/><rect x="1156.6" y="1180.0" width="2" height="1.5" fill="#9a9a9a"/><rect x="1166.4" y="1180.0" width="2" height="1.5" fill="#9a9a9a"/><rect x="1176.2" y="1180.0" width="2" height="1.5" fill="#9a9a9a"/><rect x="1186.0" y="1180.0" width="2" height="1.5" fill="#9a9a9a"/><rect x="1195.8" y="1180.0" width="2" height="1.5" fill="#9a9a9a"/><rect x="1205.6" y="1180.0" width="2" height="1.5" fill="#9a9a9a"/><rect x="1215.4" y="1180.0" width="2" height="1.5" fill="#9a9a9a"/><rect x="1225.2" y="1180.0" width="2" height="1.5" fill="#9a9a9a"/><rect x="1235.0" y="1180.0" width="2" height="1.5" fill="#9a9a9a"/><rect x="1244.8" y="1180.0" width="2" height="1.5" fill="#9a9a9a"/><rect x="1254.6" y="1180.0" width="2" height="1.5" fill="#9a9a9a"/><rect x="1264.4" y="1180.0" width="2" height="1.5" fill="#9a9a9a"/><rect x="1274.2" y="1180.0" width="2" height="1.5" fill="#9a9a9a"/><rect x="1284.0" y="1180.0" width="2" height="1.5" fill="#9a9a9a"/><rect x="1293.8" y="1180.0" width="2" height="1.5" fill="#9a9a9a"/><rect x="1303.6" y="1180.0" width="2" height="1.5" fill="#9a9a9a"/><rect x="1313.4" y="1180.0" width="2" height="1.5" fill="#9a9a9a"/><rect x="1323.2" y="1180.0" width="2" height="1.5" fill="#9a9a9a"/><rect x="1333.0" y="1180.0" width="2" height="1.5" fill="#9a9a9a"/><rect x="1342.8" y="1180.0" width="2" height="1.5" fill="#9a9a9a"/><rect x="1137.0" y="1189.5" width="2" height="1.5" fill="#9a9a9a"/><rect x="1146.8" y="1189.5" width="2" height="1.5" fill="#9a9a9a"/><rect x="1156.6" y="1189.5" width="2" height="1.5" fill="#9a9a9a"/><rect x="1166.4" y="1189.5" width="2" height="1.5" fill="#9a9a9a"/><rect x="1176.2" y="1189.5" width="2" height="1.5" fill="#9a9a9a"/><rect x="1186.0" y="1189.5" width="2" height="1.5" fill="#9a9a9a"/><rect x="1195.8" y="1189.5" width="2" height="1.5" fill="#9a9a9a"/><rect x="1205.6" y="1189.5" width="2" height="1.5" fill="#9a9a9a"/><rect x="1215.4" y="1189.5" width="2" height="1.5" fill="#9a9a9a"/><rect x="1225.2" y="1189.5" width="2" height="1.5" fill="#9a9a9a"/><rect x="1235.0" y="1189.5" width="2" height="1.5" fill="#9a9a9a"/><rect x="1244.8" y="1189.5" width="2" height="1.5" fill="#9a9a9a"/><rect x="1254.6" y="1189.5" width="2" height="1.5" fill="#9a9a9a"/><rect x="1264.4" y="1189.5" width="2" height="1.5" fill="#9a9a9a"/><rect x="1274.2" y="1189.5" width="2" height="1.5" fill="#9a9a9a"/><rect x="1284.0" y="1189.5" width="2" height="1.5" fill="#9a9a9a"/><rect x="1293.8" y="1189.5" width="2" height="1.5" fill="#9a9a9a"/><rect x="1303.6" y="1189.5" width="2" height="1.5" fill="#9a9a9a"/><rect x="1313.4" y="1189.5" width="2" height="1.5" fill="#9a9a9a"/><rect x="1323.2" y="1189.5" width="2" height="1.5" fill="#9a9a9a"/><rect x="1333.0" y="1189.5" width="2" height="1.5" fill="#9a9a9a"/><rect x="1342.8" y="1189.5" width="2" height="1.5" fill="#9a9a9a"/><rect x="1137.0" y="1199.0" width="2" height="1.5" fill="#9a9a9a"/><rect x="1146.8" y="1199.0" width="2" height="1.5" fill="#9a9a9a"/><rect x="1156.6" y="1199.0" width="2" height="1.5" fill="#9a9a9a"/><rect x="1166.4" y="1199.0" width="2" height="1.5" fill="#9a9a9a"/><rect x="1176.2" y="1199.0" width="2" height="1.5" fill="#9a9a9a"/><rect x="1186.0" y="1199.0" width="2" height="1.5" fill="#9a9a9a"/><rect x="1195.8" y="1199.0" width="2" height="1.5" fill="#9a9a9a"/><rect x="1205.6" y="1199.0" width="2" height="1.5" fill="#9a9a9a"/><rect x="1215.4" y="1199.0" width="2" height="1.5" fill="#9a9a9a"/><rect x="1225.2" y="1199.0" width="2" height="1.5" fill="#9a9a9a"/><rect x="1235.0" y="1199.0" width="2" height="1.5" fill="#9a9a9a"/><rect x="1244.8" y="1199.0" width="2" height="1.5" fill="#9a9a9a"/><rect x="1254.6" y="1199.0" width="2" height="1.5" fill="#9a9a9a"/><rect x="1264.4" y="1199.0" width="2" height="1.5" fill="#9a9a9a"/><rect x="1274.2" y="1199.0" width="2" height="1.5" fill="#9a9a9a"/><rect x="1284.0" y="1199.0" width="2" height="1.5" fill="#9a9a9a"/><rect x="1293.8" y="1199.0" width="2" height="1.5" fill="#9a9a9a"/><rect x="1303.6" y="1199.0" width="2" height="1.5" fill="#9a9a9a"/><rect x="1313.4" y="1199.0" width="2" height="1.5" fill="#9a9a9a"/><rect x="1323.2" y="1199.0" width="2" height="1.5" fill="#9a9a9a"/><rect x="1333.0" y="1199.0" width="2" height="1.5" fill="#9a9a9a"/><rect x="1342.8" y="1199.0" width="2" height="1.5" fill="#9a9a9a"/><rect x="1137.0" y="1208.5" width="2" height="1.5" fill="#9a9a9a"/><rect x="1146.8" y="1208.5" width="2" height="1.5" fill="#9a9a9a"/><rect x="1156.6" y="1208.5" width="2" height="1.5" fill="#9a9a9a"/><rect x="1166.4" y="1208.5" width="2" height="1.5" fill="#9a9a9a"/><rect x="1176.2" y="1208.5" width="2" height="1.5" fill="#9a9a9a"/><rect x="1186.0" y="1208.5" width="2" height="1.5" fill="#9a9a9a"/><rect x="1195.8" y="1208.5" width="2" height="1.5" fill="#9a9a9a"/><rect x="1205.6" y="1208.5" width="2" height="1.5" fill="#9a9a9a"/><rect x="1215.4" y="1208.5" width="2" height="1.5" fill="#9a9a9a"/><rect x="1225.2" y="1208.5" width="2" height="1.5" fill="#9a9a9a"/><rect x="1235.0" y="1208.5" width="2" height="1.5" fill="#9a9a9a"/><rect x="1244.8" y="1208.5" width="2" height="1.5" fill="#9a9a9a"/><rect x="1254.6" y="1208.5" width="2" height="1.5" fill="#9a9a9a"/><rect x="1264.4" y="1208.5" width="2" height="1.5" fill="#9a9a9a"/><rect x="1274.2" y="1208.5" width="2" height="1.5" fill="#9a9a9a"/><rect x="1284.0" y="1208.5" width="2" height="1.5" fill="#9a9a9a"/><rect x="1293.8" y="1208.5" width="2" height="1.5" fill="#9a9a9a"/><rect x="1303.6" y="1208.5" width="2" height="1.5" fill="#9a9a9a"/><rect x="1313.4" y="1208.5" width="2" height="1.5" fill="#9a9a9a"/><rect x="1323.2" y="1208.5" width="2" height="1.5" fill="#9a9a9a"/><rect x="1333.0" y="1208.5" width="2" height="1.5" fill="#9a9a9a"/><rect x="1342.8" y="1208.5" width="2" height="1.5" fill="#9a9a9a"/><rect x="1137.0" y="1218.0" width="2" height="1.5" fill="#9a9a9a"/><rect x="1146.8" y="1218.0" width="2" height="1.5" fill="#9a9a9a"/><rect x="1156.6" y="1218.0" width="2" height="1.5" fill="#9a9a9a"/><rect x="1166.4" y="1218.0" width="2" height="1.5" fill="#9a9a9a"/><rect x="1176.2" y="1218.0" width="2" height="1.5" fill="#9a9a9a"/><rect x="1244.8" y="1218.0" width="2" height="1.5" fill="#9a9a9a"/><rect x="1254.6" y="1218.0" width="2" height="1.5" fill="#9a9a9a"/><rect x="1264.4" y="1218.0" width="2" height="1.5" fill="#9a9a9a"/><rect x="1274.2" y="1218.0" width="2" height="1.5" fill="#9a9a9a"/><rect x="1284.0" y="1218.0" width="2" height="1.5" fill="#9a9a9a"/><rect x="1293.8" y="1218.0" width="2" height="1.5" fill="#9a9a9a"/><rect x="1303.6" y="1218.0" width="2" height="1.5" fill="#9a9a9a"/><rect x="1313.4" y="1218.0" width="2" height="1.5" fill="#9a9a9a"/><rect x="1323.2" y="1218.0" width="2" height="1.5" fill="#9a9a9a"/><rect x="1333.0" y="1218.0" width="2" height="1.5" fill="#9a9a9a"/><rect x="1342.8" y="1218.0" width="2" height="1.5" fill="#9a9a9a"/><rect x="1137.0" y="1172.5" width="4" height="1" fill="#777"/><rect x="1146.8" y="1172.5" width="4" height="1" fill="#777"/><rect x="1156.6" y="1172.5" width="4" height="1" fill="#777"/><rect x="1166.4" y="1172.5" width="4" height="1" fill="#777"/><rect x="1176.2" y="1172.5" width="4" height="1" fill="#777"/><rect x="1186.0" y="1172.5" width="4" height="1" fill="#777"/><rect x="1195.8" y="1172.5" width="4" height="1" fill="#777"/><rect x="1205.6" y="1172.5" width="4" height="1" fill="#777"/><rect x="1215.4" y="1172.5" width="4" height="1" fill="#777"/><rect x="1225.2" y="1172.5" width="4" height="1" fill="#777"/><rect x="1235.0" y="1172.5" width="4" height="1" fill="#777"/><rect x="1244.8" y="1172.5" width="4" height="1" fill="#777"/><rect x="1254.6" y="1172.5" width="4" height="1" fill="#777"/><rect x="1264.4" y="1172.5" width="4" height="1" fill="#777"/><rect x="1274.2" y="1172.5" width="4" height="1" fill="#777"/><rect x="1284.0" y="1172.5" width="4" height="1" fill="#777"/><rect x="1293.8" y="1172.5" width="4" height="1" fill="#777"/><rect x="1303.6" y="1172.5" width="4" height="1" fill="#777"/><rect x="1313.4" y="1172.5" width="4" height="1" fill="#777"/><rect x="1323.2" y="1172.5" width="4" height="1" fill="#777"/><rect x="1333.0" y="1172.5" width="4" height="1" fill="#777"/><rect x="1342.8" y="1172.5" width="4" height="1" fill="#777"/><rect x="1176" y="1217.5" width="56" height="1.5" fill="#555"/><rect x="1278" y="1176" width="1" height="46" fill="#333"/><path d="M1386,1171 Q1368,1172 1367,1195 Q1364,1245 1387,1246 Q1409,1245 1406,1195 Q1404,1171 1386,1171 Z" fill="#0e0e10"/><path d="M1386,1173 Q1372,1175 1371,1192 L1386,1190 Z" fill="#1e1e22"/><rect x="1385" y="1180" width="3" height="10" rx="1.5" fill="#2a2a2e"/></g>
<g><path d="M225,1365 l-2,3 M219,1368 h12 v12 h-12 z M219,1374 h12" stroke="#555" stroke-width="1.3" fill="none"/><path d="M241,1370 h5 M243.5,1365 v15 M243.5,1371 l-3,5 M247,1367 h8 l-2,3 M248,1372 h6 v4 h-6 z M247,1379 h9" stroke="#555" stroke-width="1.3" fill="none"/><path d="M274,1365 l-2,3 M268,1368 h12 v12 h-12 z M268,1374 h12" stroke="#555" stroke-width="1.3" fill="none"/><path d="M292,1367 h15 M296,1365 v5 M303,1365 v5 M295,1370 v5 M298,1371 v4 M301,1371 h5 l-1,3 M294,1376 h11 v4 h-11 z M298,1376 v4 M301,1376 v4 M292,1380 h15" stroke="#555" stroke-width="1.3" fill="none"/><path d="M327,1365 l-2,3 M321,1368 h12 v12 h-12 z M321,1374 h12" stroke="#555" stroke-width="1.3" fill="none"/><path d="M346,1365 l-3,6 h5 l-4,5 h5 M343,1379 l6,-2 M351,1366 h6 v4 h-6 M349,1373 h9 M353,1370 v10 M350,1376 l2,2 M357,1375 l-2,3" stroke="#555" stroke-width="1.3" fill="none"/><path d="M374,1365 l-2,3 M368,1368 h12 v12 h-12 z M368,1374 h12" stroke="#555" stroke-width="1.3" fill="none"/><path d="M388,1370 h5 M390.5,1365 v15 M390.5,1371 l-3,5 M398,1365 v2 M394,1369 v-2 h9 v2 M395,1371 h7 M394,1374 h9 M398.5,1374 v6 M396,1376 l-2,3 M401,1376 l2,3" stroke="#555" stroke-width="1.3" fill="none"/><path d="M216,1389 h5 M218.5,1384 v15 M218.5,1390 l-3,5 M222,1386 h8 l-2,3 M223,1391 h6 v4 h-6 z M222,1398 h9" stroke="#555" stroke-width="1.3" fill="none"/><path d="M271,1384 l-3,6 h5 l-4,5 h5 M268,1398 l6,-2 M276,1385 h6 v4 h-6 M274,1392 h9 M278,1389 v10 M275,1395 l2,2 M282,1394 l-2,3" stroke="#555" stroke-width="1.3" fill="none"/><path d="M320,1386 h15 M324,1384 v5 M331,1384 v5 M323,1389 v5 M326,1390 v4 M329,1390 h5 l-1,3 M322,1395 h11 v4 h-11 z M326,1395 v4 M329,1395 v4 M320,1399 h15" stroke="#555" stroke-width="1.3" fill="none"/><path d="M367,1389 h5 M369.5,1384 v15 M369.5,1390 l-3,5 M377,1384 v2 M373,1388 v-2 h9 v2 M374,1390 h7 M373,1393 h9 M377.5,1393 v6 M375,1395 l-2,3 M380,1395 l2,3" stroke="#555" stroke-width="1.3" fill="none"/></g>
<g fill="none" stroke="#111" stroke-width="3">
 <path d="M347,397 V564 Q347,574 357,574 H588 Q598,574 598,564 V540"/>
 <path d="M787,560 V598 Q787,608 777,608 H353 Q344,608 344,618 V632"/>
 <path d="M708,563 V662 Q708,672 718,672 H1172"/>
 <path d="M936,565 V580 Q936,590 946,590 H1182"/>
 <path d="M849,507 V552"/>
 <path d="M605,1035 V1128"/>
 <path d="M790,1045 V1045 Q790,1053 782,1053 H450"/>
 <path d="M849,1000 V1042"/>
 <path d="M918,1045 V1130 Q918,1139 927,1139 H1224 Q1233,1139 1233,1148 V1168"/>
 <path d="M954,1045 V1117 Q954,1126 963,1126 H1332 Q1341,1126 1341,1135 V1168"/>
</g>
<path d="M1049,545 V880" stroke="#1f6fc4" stroke-width="3" fill="none"/>
<g><rect x="594" y="509" width="12" height="8" fill="#d9b85a" rx="0"/><rect x="595.5" y="511" width="3.0" height="3" fill="#5a4a20" rx="0"/><rect x="601.5" y="511" width="3.0" height="3" fill="#5a4a20" rx="0"/><rect x="592.6" y="517" width="15.100000000000023" height="24" fill="#151515" rx="1.5"/><rect x="698" y="513" width="19" height="13" fill="#d9b85a" rx="0"/><rect x="701" y="516" width="4" height="4" fill="#6a5420" rx="0"/><rect x="710" y="516" width="4" height="4" fill="#6a5420" rx="0"/><rect x="695.6" y="526" width="24.399999999999977" height="37" fill="#151515" rx="2"/><rect x="703" y="563" width="10" height="5" fill="#151515" rx="0"/><rect x="785.5" y="498" width="4.0" height="20" fill="#cfae62" rx="0"/><rect x="785" y="504" width="5" height="2" fill="#3a3020" rx="0"/><rect x="785" y="510" width="5" height="2" fill="#3a3020" rx="0"/><rect x="782.5" y="518" width="9.5" height="35" fill="#6e6e70" rx="1"/><rect x="784" y="520" width="2" height="30" fill="#9a9a9c" rx="0"/><rect x="782.5" y="553" width="9.5" height="9" fill="#1a1a1a" rx="0"/><rect x="840" y="550.5" width="18" height="17.5" fill="#f01010" rx="4"/><rect x="931" y="510" width="10" height="10" fill="#9a9a98" rx="0"/><rect x="929.5" y="520" width="13.0" height="45" fill="#3a3a3c" rx="2"/><rect x="932" y="524" width="2" height="36" fill="#6a6a6c" rx="0"/><rect x="1044" y="520" width="10" height="10" fill="#a8c8e8" rx="0"/><rect x="1042.5" y="530" width="12.5" height="22" fill="#1f6fc4" rx="2"/><rect x="1178.4" y="586" width="4.0" height="8.600000000000023" fill="#151515" rx="0"/><rect x="1182.4" y="581.4" width="25.299999999999955" height="18.0" fill="#1c1c1c" rx="1"/><rect x="1207.7" y="583" width="14.899999999999864" height="15.5" fill="#e8d070" rx="0"/><rect x="1213" y="586" width="4" height="4" fill="#4a3a10" rx="0"/><rect x="1213" y="592" width="4" height="4" fill="#4a3a10" rx="0"/><rect x="1169.2" y="664.5" width="6.2000000000000455" height="11.899999999999977" fill="#151515" rx="0"/><rect x="1175.4" y="658.4" width="32.299999999999955" height="24.100000000000023" fill="#1c1c1c" rx="1.5"/><rect x="1207.7" y="662" width="10.099999999999909" height="16" fill="#e0c060" rx="0"/><rect x="1210" y="665" width="4" height="4" fill="#6a5018" rx="0"/><rect x="1210" y="671" width="4" height="4" fill="#6a5018" rx="0"/><rect x="338.9" y="632" width="8.200000000000045" height="6" fill="#2a2a2a" rx="0"/><rect x="338.9" y="638" width="8.200000000000045" height="29.700000000000045" fill="#6a6a6c" rx="0"/><rect x="340.5" y="640" width="2.0" height="25" fill="#a0a0a2" rx="0"/><rect x="340.6" y="667.7" width="5.899999999999977" height="21.299999999999955" fill="#d8b870" rx="0"/><rect x="341" y="675" width="5" height="3" fill="#3a2a10" rx="0"/><rect x="341" y="681" width="5" height="3" fill="#3a2a10" rx="0"/><rect x="338" y="376" width="16" height="18" fill="#1a1a1a" rx="1.5"/><rect x="343" y="394" width="8" height="5" fill="#1a1a1a" rx="0"/><rect x="599" y="997" width="14" height="11" fill="#d9b85a" rx="0"/><rect x="601" y="1000" width="3" height="4" fill="#5a4a20" rx="0"/><rect x="608" y="1000" width="3" height="4" fill="#5a4a20" rx="0"/><rect x="597" y="1008" width="18" height="27" fill="#151515" rx="1.5"/><rect x="600" y="1035" width="10" height="5" fill="#151515" rx="0"/><rect x="789.5" y="985" width="4.0" height="19" fill="#cfae62" rx="0"/><rect x="789" y="990" width="5" height="2" fill="#3a3020" rx="0"/><rect x="789" y="996" width="5" height="2" fill="#3a3020" rx="0"/><rect x="787" y="1004" width="9" height="36" fill="#6e6e70" rx="1"/><rect x="788.5" y="1006" width="2.0" height="31" fill="#9a9a9c" rx="0"/><rect x="787" y="1040" width="9" height="6" fill="#1a1a1a" rx="0"/><rect x="839.5" y="1039.7" width="19.5" height="18.700000000000045" fill="#f01010" rx="4"/><rect x="912" y="1001.4" width="16" height="15.0" fill="#e0c868" rx="0"/><rect x="915" y="1005" width="3" height="3" fill="#4a3a10" rx="0"/><rect x="922" y="1005" width="3" height="3" fill="#4a3a10" rx="0"/><rect x="918.5" y="1010" width="3.0" height="3" fill="#4a3a10" rx="0"/><rect x="910" y="1016.4" width="19" height="25.600000000000023" fill="#1a1a1a" rx="1"/><rect x="915.5" y="1042" width="8.0" height="5" fill="#151515" rx="0"/><rect x="946.6" y="1001.4" width="15.0" height="15.0" fill="#e0c868" rx="0"/><rect x="949.6" y="1005" width="3.0" height="3" fill="#4a3a10" rx="0"/><rect x="955.6" y="1005" width="3.0" height="3" fill="#4a3a10" rx="0"/><rect x="952.6" y="1010" width="3.0" height="3" fill="#4a3a10" rx="0"/><rect x="944.4" y="1016.4" width="18.600000000000023" height="25.600000000000023" fill="#1a1a1a" rx="1"/><rect x="949.7" y="1042" width="8.0" height="5" fill="#151515" rx="0"/><rect x="390.6" y="1051" width="24.399999999999977" height="4.5" fill="#d8b870" rx="0"/><rect x="398" y="1050.5" width="2" height="5.5" fill="#3a2a10" rx="0"/><rect x="404" y="1050.5" width="2" height="5.5" fill="#3a2a10" rx="0"/><rect x="415" y="1048.8" width="30" height="9.200000000000045" fill="#7a7a7c" rx="1"/><rect x="417" y="1050.5" width="26" height="2.0" fill="#a8a8aa" rx="0"/><rect x="445" y="1049.5" width="6" height="7.5" fill="#2a2a2a" rx="0"/><rect x="600" y="1124" width="12" height="4" fill="#151515" rx="0"/><rect x="596.7" y="1127" width="19.699999999999932" height="31" fill="#151515" rx="2"/><rect x="600" y="1158" width="13" height="6" fill="#d9b85a" rx="0"/><rect x="1043.5" y="878" width="12.0" height="24" fill="#1f6fc4" rx="2"/><rect x="1045" y="902" width="9" height="11" fill="#b8cce0" rx="0"/></g>
<g><text x="191.5" y="422.5" font-size="19.5" fill="#000" stroke="#fff" stroke-width="0.3" textLength="151" lengthAdjust="spacingAndGlyphs">Local output TV</text><text x="353.5" y="557" font-size="19.5" fill="#000" stroke="#fff" stroke-width="0.3" textLength="234" lengthAdjust="spacingAndGlyphs">High Definition Multime–</text><text x="382.7" y="571.4" font-size="19.5" fill="#000" stroke="#fff" stroke-width="0.3" textLength="175" lengthAdjust="spacingAndGlyphs">dia Interface cable</text><text x="787" y="582.6" font-size="15" fill="#000" stroke="#fff" stroke-width="0.3" textLength="137" lengthAdjust="spacingAndGlyphs">Infrared transmit</text><text x="931" y="614" font-size="19.5" fill="#000" stroke="#fff" stroke-width="0.3" textLength="93.5" lengthAdjust="spacingAndGlyphs">USB input</text><text x="439" y="636" font-size="19.5" fill="#000" stroke="#fff" stroke-width="0.3" textLength="183.5" lengthAdjust="spacingAndGlyphs">3.5mm/0.1in sound</text><text x="718.7" y="647.8" font-size="19.5" fill="#000" stroke="#fff" stroke-width="0.3" textLength="311.6" lengthAdjust="spacingAndGlyphs">High Definition Multimedia Inter–</text><text x="798.7" y="661.3" font-size="19.5" fill="#000" stroke="#fff" stroke-width="0.3" textLength="152" lengthAdjust="spacingAndGlyphs">face cable input</text><text x="648" y="727.5" font-size="19.5" fill="#000" stroke="#fff" stroke-width="0.3" textLength="385.5" lengthAdjust="spacingAndGlyphs">Category 6 network cable 120m/393.7ft</text><text x="1234.4" y="388" font-size="19.5" fill="#000" stroke="#fff" stroke-width="0.3" textLength="139.5" lengthAdjust="spacingAndGlyphs">Computer host</text><text x="1204" y="747.5" font-size="19.5" fill="#000" stroke="#fff" stroke-width="0.3" textLength="209.5" lengthAdjust="spacingAndGlyphs">for PS3 game console</text><text x="1281.5" y="929" font-size="19.5" fill="#000" stroke="#fff" stroke-width="0.3" textLength="59.5" lengthAdjust="spacingAndGlyphs">laptop</text><text x="261" y="803.4" font-size="19.5" fill="#000" stroke="#fff" stroke-width="0.3" textLength="92" lengthAdjust="spacingAndGlyphs">Headsets,</text><text x="250" y="934.7" font-size="19.5" fill="#000" stroke="#fff" stroke-width="0.3" textLength="56" lengthAdjust="spacingAndGlyphs">sound</text><text x="272" y="1072" font-size="19.5" fill="#000" stroke="#fff" stroke-width="0.3" textLength="61" lengthAdjust="spacingAndGlyphs">mixers</text><text x="267" y="1147" font-size="19.5" fill="#000" stroke="#fff" stroke-width="0.3" textLength="89" lengthAdjust="spacingAndGlyphs">amplifiers</text><text x="403" y="1080" font-size="19.5" fill="#000" stroke="#fff" stroke-width="0.3" textLength="184" lengthAdjust="spacingAndGlyphs">3.5mm/0.1in sound</text><text x="741" y="1079" font-size="19.5" fill="#000" stroke="#fff" stroke-width="0.3" textLength="169" lengthAdjust="spacingAndGlyphs">Infrared reception</text><text x="629.6" y="1101" font-size="19.5" fill="#000" stroke="#fff" stroke-width="0.3" textLength="140" lengthAdjust="spacingAndGlyphs">High Definition</text><text x="617" y="1121" font-size="19.5" fill="#000" stroke="#fff" stroke-width="0.3" textLength="164" lengthAdjust="spacingAndGlyphs">Multimedia Inter–</text><text x="645" y="1140" font-size="19.5" fill="#000" stroke="#fff" stroke-width="0.3" textLength="109" lengthAdjust="spacingAndGlyphs">face output</text><text x="541" y="1320" font-size="19.5" fill="#000" stroke="#fff" stroke-width="0.3" textLength="82.5" lengthAdjust="spacingAndGlyphs">Monitors</text><text x="767.7" y="1317" font-size="19.5" fill="#000" stroke="#fff" stroke-width="0.3" textLength="71.3" lengthAdjust="spacingAndGlyphs">TV sets</text><text x="960" y="1315.4" font-size="19.5" fill="#000" stroke="#fff" stroke-width="0.3" textLength="95.5" lengthAdjust="spacingAndGlyphs">projectors</text><text x="1207.5" y="1272.5" font-size="19.5" fill="#000" stroke="#fff" stroke-width="0.3" textLength="88.5" lengthAdjust="spacingAndGlyphs">Keyboard</text><text x="1371" y="1280" font-size="19.5" fill="#000" stroke="#fff" stroke-width="0.3" textLength="61" lengthAdjust="spacingAndGlyphs">Mouse</text></g>
<path d="M1223,1036 V244 H1405 V1072 H1223 V1062" fill="none" stroke="#111" stroke-width="2.2" stroke-dasharray="6.2,3.3"/>
</svg>
</body></html>
